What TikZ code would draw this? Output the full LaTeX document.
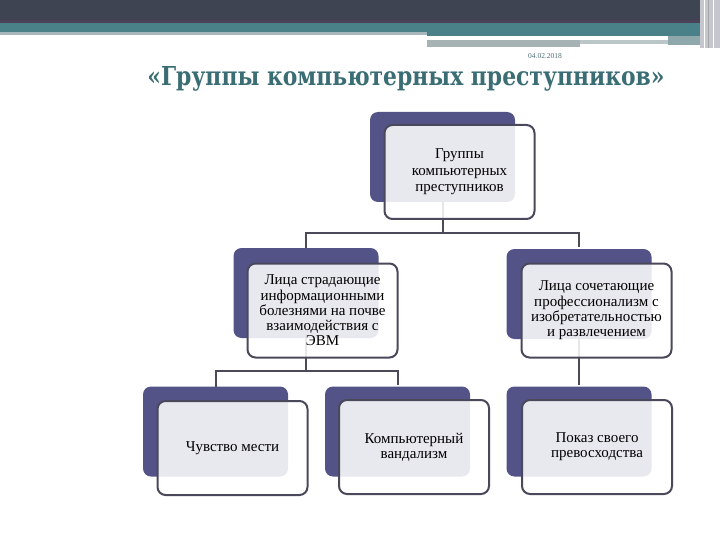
\documentclass[tikz,border=0pt]{standalone}
\usepackage{fontspec}
\setmainfont{Liberation Serif}
\newfontfamily\titlefont{DejaVu Serif}
\usetikzlibrary{calc}
\definecolor{backc}{HTML}{545388}
\definecolor{framec}{HTML}{4A495C}
\definecolor{linec}{HTML}{4A4A58}
\definecolor{darkbar}{HTML}{3F4453}
\definecolor{purpleline}{HTML}{4B4257}
\definecolor{tealbar}{HTML}{4A8189}
\definecolor{lightbar}{HTML}{A8B7BC}
\definecolor{graybar}{HTML}{A6B2B4}
\definecolor{graybar2}{HTML}{BAC6C8}
\definecolor{tealgray}{HTML}{8FA8AC}
\definecolor{edgec}{HTML}{C6C6CE}
\definecolor{titlec}{HTML}{3A6E74}
\definecolor{datec}{HTML}{4E6E74}
\tikzset{
  backbox/.style={draw=none, fill=backc, rounded corners=8pt, minimum width=145pt, minimum height=90pt, inner sep=0pt, outer sep=0pt},
  frontbox/.style={draw=framec, line width=2pt, fill=white, fill opacity=0.87, text opacity=1, rounded corners=8pt, minimum width=150pt, minimum height=94pt, inner sep=0pt, outer sep=0pt, align=center, font=\fontsize{15}{15.3}\selectfont},
  conn/.style={draw=linec, line width=2pt},
}
\begin{document}
\begin{tikzpicture}[x=1pt,y=-1pt]
\useasboundingbox (0,0) rectangle (720,540);
\fill[white] (0,0) rectangle (720,540);
% top decoration
\fill[darkbar] (0,0) rectangle (700,21);
\fill[purpleline] (0,20) rectangle (700,23);
\fill[tealbar] (0,23) rectangle (700,32);
\fill[lightbar] (0,32) rectangle (427,35);
\fill[tealbar] (427,32) rectangle (700,36);
\fill[white] (427,37) rectangle (668,39);
\fill[graybar] (427,40) rectangle (580,47);
\fill[graybar2] (580,40) rectangle (668,44);
\fill[tealgray] (668,36) rectangle (702,45);
\fill[edgec] (700,0) rectangle (720,48);
\draw[white, line width=1pt] (704,0) -- (704,48);
\draw[gray!70, line width=0.8pt] (708,0) -- (708,48);
\draw[white, line width=1pt] (713,0) -- (713,48);
% title and date
\node[text=datec, font=\fontsize{7.5}{8}\selectfont, inner sep=0pt] (date) at (545,56) {04.02.2018};
\node[text=titlec, inner sep=0pt] (title) at (406,79) {\resizebox{517pt}{19pt}{\titlefont\bfseries «Группы компьютерных преступников»}};
% back boxes
\node[backbox] (b1) at (442.5,157) {};
\node[backbox] (b2) at (306,293) {};
\node[backbox] (b3) at (579,294) {};
\node[backbox] (b4) at (215.5,431.5) {};
\node[backbox] (b5) at (397.5,431.5) {};
\node[backbox] (b6) at (579,431.5) {};
% junctions
\coordinate (j1) at (442.5,233);
\coordinate (j2) at (306,371);
% connectors
\draw[conn] (b1.south) -- (j1);
\draw[conn, shorten >=2pt] (b2.north) |- (j1) -| (b3.north);
\draw[conn] (b2.south) -- (j2);
\draw[conn, shorten >=2pt] (b4.north) |- (j2) -| (b5.north);
\draw[conn, shorten >=2pt] (b3.south) -- (b6.north);
% front boxes
\node[frontbox, font=\fontsize{15}{16.5}\selectfont] (f1) at (459.5,172) {Группы\\компьютерных\\преступников};
\node[frontbox] (f2) at (322.5,310.5) {Лица страдающие\\информационными\\болезнями на почве\\взаимодействия с\\ЭВМ};
\node[frontbox] (f3) at (596.5,310.5) {Лица сочетающие\\профессионализм с\\изобретательностью\\и развлечением};
\node[frontbox] (f4) at (232.5,448) {Чувство мести};
\node[frontbox] (f5) at (414,447) {Компьютерный\\вандализм};
\node[frontbox] (f6) at (597,447) {Показ своего\\превосходства};
\end{tikzpicture}
\end{document}
